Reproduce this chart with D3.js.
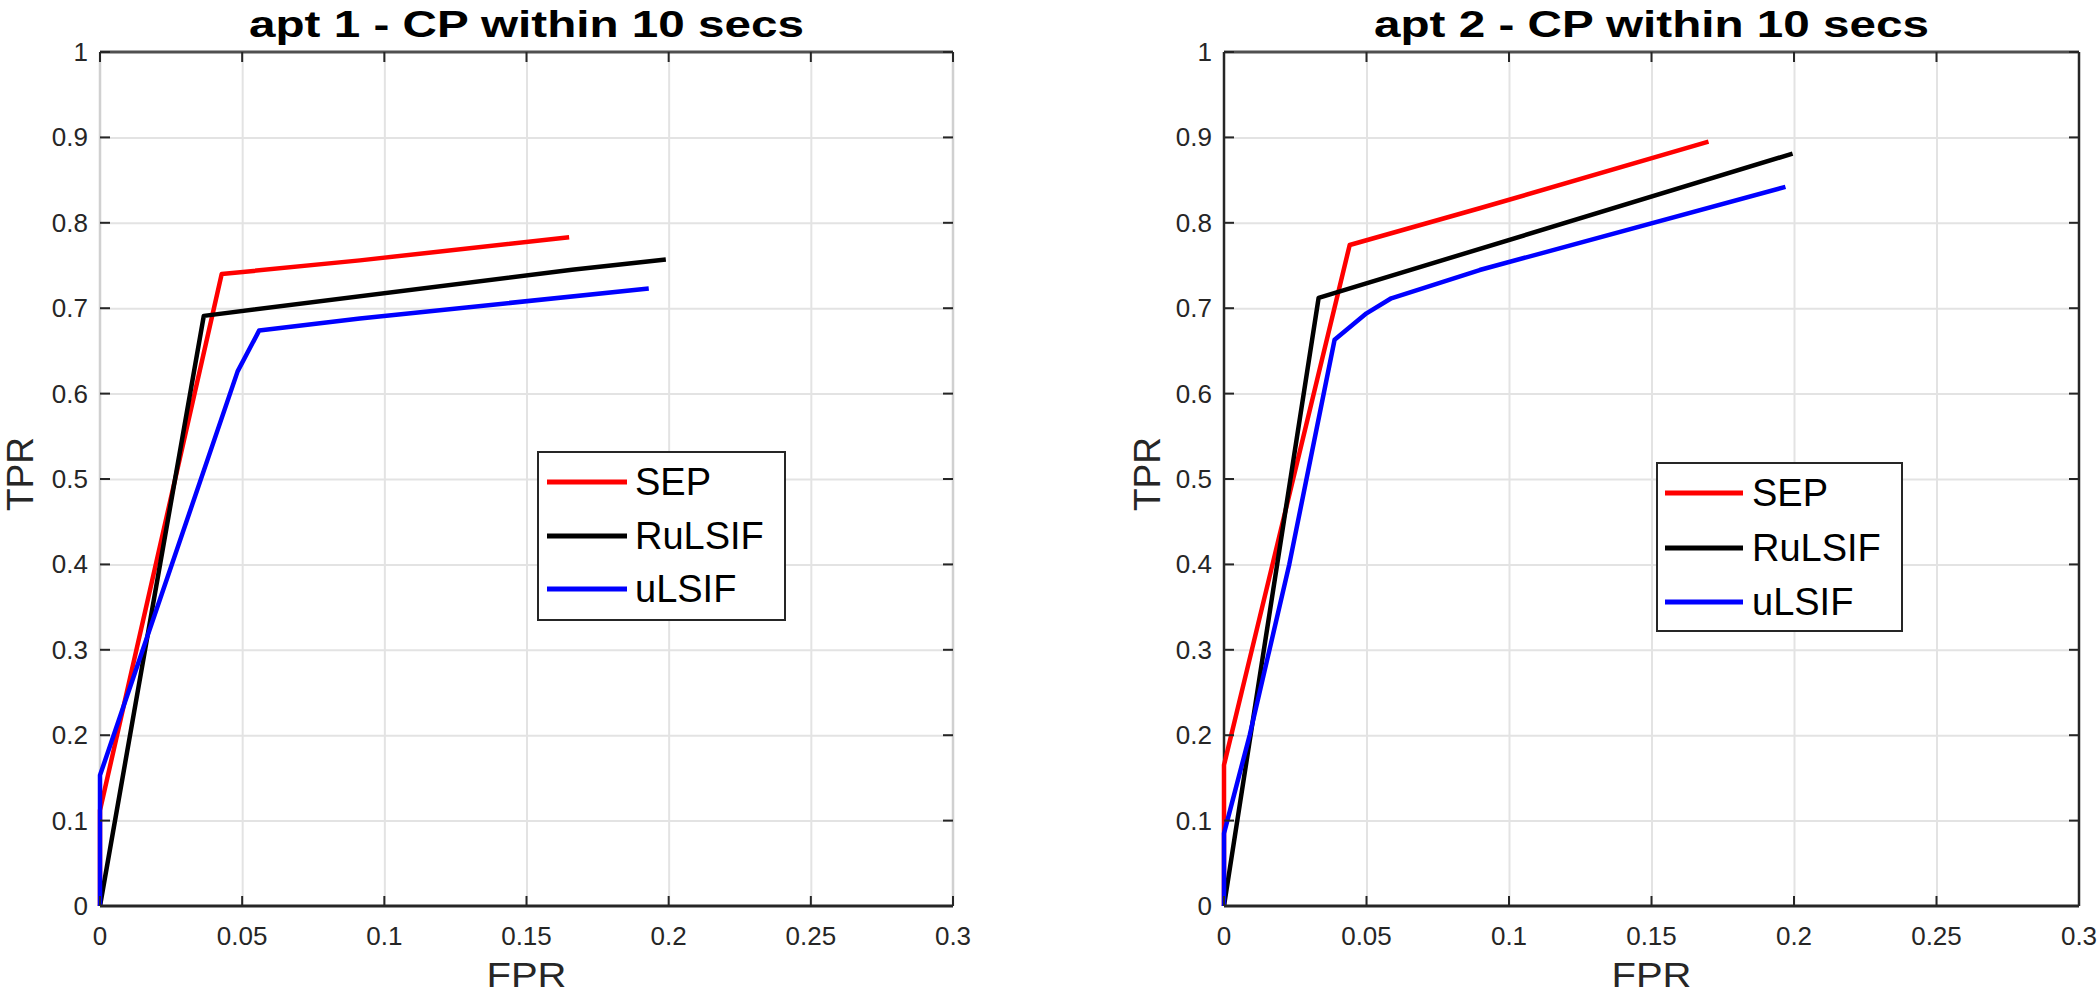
<!DOCTYPE html>
<html>
<head>
<meta charset="utf-8">
<script src="https://cdn.jsdelivr.net/npm/d3@7"></script>
<style>
  html, body { margin: 0; padding: 0; background: #fff; }
  svg { display: block; }
  text { font-family: "Liberation Sans", Arial, Helvetica, sans-serif; }
</style>
</head>
<body>
<svg id="chart" width="2100" height="995"></svg>
<script>
// ---------------- data ----------------
const xTickValues = [0, 0.05, 0.1, 0.15, 0.2, 0.25, 0.3];
const xTickLabels = ["0", "0.05", "0.1", "0.15", "0.2", "0.25", "0.3"];
const yTickValues = [0, 0.1, 0.2, 0.3, 0.4, 0.5, 0.6, 0.7, 0.8, 0.9, 1];
const yTickLabels = ["0", "0.1", "0.2", "0.3", "0.4", "0.5", "0.6", "0.7", "0.8", "0.9", "1"];
const seriesNames = ["SEP", "RuLSIF", "uLSIF"];
const panelTitles = ["apt 1 - CP within 10 secs", "apt 2 - CP within 10 secs"];
const xLabel = "FPR";
const yLabel = "TPR";

// apt 1
const apt1SepFpr    = [0, 0, 0.0428, 0.0914, 0.165];
const apt1SepTpr    = [0, 0.112, 0.740, 0.756, 0.783];
const apt1RulsifFpr = [0, 0.0365, 0.166, 0.199];
const apt1RulsifTpr = [0, 0.691, 0.745, 0.757];
const apt1UlsifFpr  = [0, 0, 0.0484, 0.056, 0.0914, 0.193];
const apt1UlsifTpr  = [0, 0.153, 0.626, 0.674, 0.688, 0.723];

// apt 2
const apt2SepFpr    = [0, 0, 0.0441, 0.0897, 0.170];
const apt2SepTpr    = [0, 0.165, 0.774, 0.817, 0.895];
const apt2RulsifFpr = [0, 0.0332, 0.1995];
const apt2RulsifTpr = [0, 0.712, 0.881];
const apt2UlsifFpr  = [0, 0, 0.009, 0.0229, 0.0388, 0.05, 0.0587, 0.0897, 0.197];
const apt2UlsifTpr  = [0, 0.085, 0.2, 0.4, 0.663, 0.694, 0.7116, 0.7447, 0.842];

// ---------------- styles / layout ----------------
const seriesColors = ["#ff0000", "#000000", "#0000ff"];
const axisColor = "#262626";
const gridColor = "#e3e3e3";

const zip = (xs, ys) => xs.map((x, i) => ({ x: x, y: ys[i] }));

const panels = [
  {
    left: 100, right: 953, top: 52, bottom: 906,
    title: panelTitles[0],
    sideColor: "#d0d0d0",
    series: [zip(apt1SepFpr, apt1SepTpr), zip(apt1RulsifFpr, apt1RulsifTpr), zip(apt1UlsifFpr, apt1UlsifTpr)],
    legend: { x0: 538, x1: 785, y0: 452, y1: 620, lineX0: 547, lineX1: 627, textX: 635, rows: [482, 536, 589] },
    yLabelX: 33
  },
  {
    left: 1224, right: 2079, top: 52, bottom: 906,
    title: panelTitles[1],
    sideColor: axisColor,
    series: [zip(apt2SepFpr, apt2SepTpr), zip(apt2RulsifFpr, apt2RulsifTpr), zip(apt2UlsifFpr, apt2UlsifTpr)],
    legend: { x0: 1657, x1: 1902, y0: 463, y1: 631, lineX0: 1665, lineX1: 1743, textX: 1752, rows: [493, 548, 602] },
    yLabelX: 1160
  }
];

const svg = d3.select("#chart");

panels.forEach(p => {
  const x = d3.scaleLinear().domain([0, 0.3]).range([p.left, p.right]);
  const y = d3.scaleLinear().domain([0, 1]).range([p.bottom, p.top]);
  const g = svg.append("g");

  // grid
  const gx = g.append("g")
    .attr("transform", `translate(0,${p.bottom})`)
    .call(d3.axisBottom(x).tickValues(xTickValues.slice(1, -1)).tickSize(-(p.bottom - p.top)).tickFormat(""));
  const gy = g.append("g")
    .attr("transform", `translate(${p.left},0)`)
    .call(d3.axisLeft(y).tickValues(yTickValues.slice(1, -1)).tickSize(-(p.right - p.left)).tickFormat(""));
  [gx, gy].forEach(a => {
    a.select(".domain").remove();
    a.selectAll("line").attr("stroke", gridColor).attr("stroke-width", 2);
  });

  // box side lines (under the data)
  g.append("line").attr("x1", p.left).attr("x2", p.left).attr("y1", p.top).attr("y2", p.bottom)
    .attr("stroke", p.sideColor).attr("stroke-width", 2.5);
  g.append("line").attr("x1", p.right).attr("x2", p.right).attr("y1", p.top).attr("y2", p.bottom)
    .attr("stroke", p.sideColor).attr("stroke-width", 2.5);

  // lines
  const line = d3.line().x(d => x(d.x)).y(d => y(d.y));
  p.series.forEach((s, i) => {
    g.append("path")
      .datum(s)
      .attr("d", line)
      .attr("fill", "none")
      .attr("stroke", seriesColors[i])
      .attr("stroke-width", 4.5)
      .attr("stroke-linejoin", "round")
      .attr("stroke-linecap", "butt");
  });

  // top/bottom box lines
  g.append("line").attr("x1", p.left).attr("x2", p.right).attr("y1", p.bottom).attr("y2", p.bottom)
    .attr("stroke", axisColor).attr("stroke-width", 3);
  g.append("line").attr("x1", p.left).attr("x2", p.right).attr("y1", p.top).attr("y2", p.top)
    .attr("stroke", "#505050").attr("stroke-width", 3);

  // inner ticks (all sides)
  const tickLen = 10;
  xTickValues.forEach(v => {
    g.append("line").attr("x1", x(v)).attr("x2", x(v)).attr("y1", p.bottom).attr("y2", p.bottom - tickLen)
      .attr("stroke", axisColor).attr("stroke-width", 2);
    g.append("line").attr("x1", x(v)).attr("x2", x(v)).attr("y1", p.top).attr("y2", p.top + tickLen)
      .attr("stroke", axisColor).attr("stroke-width", 2);
  });
  yTickValues.forEach(v => {
    g.append("line").attr("x1", p.left).attr("x2", p.left + tickLen).attr("y1", y(v)).attr("y2", y(v))
      .attr("stroke", axisColor).attr("stroke-width", 2);
    g.append("line").attr("x1", p.right).attr("x2", p.right - tickLen).attr("y1", y(v)).attr("y2", y(v))
      .attr("stroke", axisColor).attr("stroke-width", 2);
  });

  // tick labels
  xTickValues.forEach((v, i) => {
    g.append("text").attr("x", x(v)).attr("y", 945)
      .attr("text-anchor", "middle").attr("font-size", 26).attr("fill", axisColor)
      .text(xTickLabels[i]);
  });
  yTickValues.forEach((v, i) => {
    g.append("text").attr("x", p.left - 12).attr("y", y(v) + 9)
      .attr("text-anchor", "end").attr("font-size", 26).attr("fill", axisColor)
      .text(yTickLabels[i]);
  });

  // title
  g.append("text").attr("x", (p.left + p.right) / 2).attr("y", 37)
    .attr("text-anchor", "middle").attr("font-size", 37).attr("font-weight", "bold").attr("fill", "#000")
    .attr("textLength", 555).attr("lengthAdjust", "spacingAndGlyphs")
    .text(p.title);

  // axis labels
  g.append("text").attr("x", (p.left + p.right) / 2).attr("y", 987)
    .attr("text-anchor", "middle").attr("font-size", 35).attr("fill", axisColor)
    .attr("textLength", 80).attr("lengthAdjust", "spacingAndGlyphs")
    .text(xLabel);
  g.append("text")
    .attr("transform", `translate(${p.yLabelX},${(p.top + p.bottom) / 2 - 5}) rotate(-90)`)
    .attr("text-anchor", "middle").attr("font-size", 37).attr("fill", axisColor)
    .text(yLabel);

  // legend
  const L = p.legend;
  g.append("rect").attr("x", L.x0).attr("y", L.y0).attr("width", L.x1 - L.x0).attr("height", L.y1 - L.y0)
    .attr("fill", "#fff").attr("stroke", axisColor).attr("stroke-width", 2);
  seriesNames.forEach((name, i) => {
    g.append("line").attr("x1", L.lineX0).attr("x2", L.lineX1).attr("y1", L.rows[i]).attr("y2", L.rows[i])
      .attr("stroke", seriesColors[i]).attr("stroke-width", 5);
    g.append("text").attr("x", L.textX).attr("y", L.rows[i] + 13)
      .attr("font-size", 38).attr("fill", "#000")
      .text(name);
  });
});
</script>
</body>
</html>
